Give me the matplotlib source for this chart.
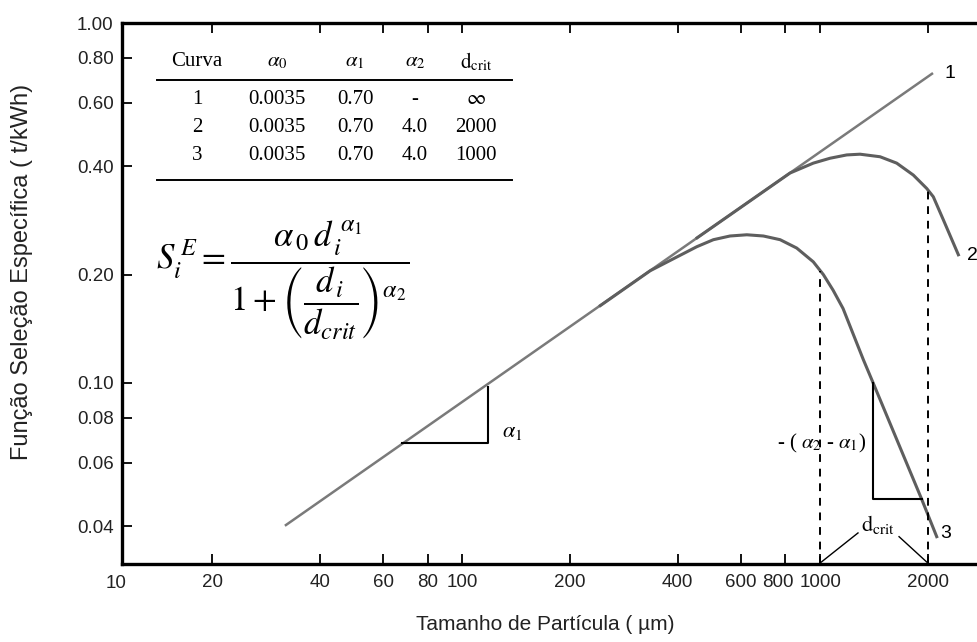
import matplotlib
matplotlib.use("Agg")
import matplotlib.pyplot as plt
from matplotlib.lines import Line2D
from matplotlib.transforms import ScaledTranslation

# ---------------- data ----------------
x_ticks = [20, 40, 60, 80, 100, 200, 400, 600, 800, 1000, 2000]
x_tick_labels = ["20", "40", "60", "80", "100", "200", "400", "600", "800", "1000", "2000"]
x_corner_label = "10"
y_ticks = [0.04, 0.06, 0.08, 0.10, 0.20, 0.40, 0.60, 0.80, 1.00]
y_tick_labels = ["0.04", "0.06", "0.08", "0.10", "0.20", "0.40", "0.60", "0.80", "1.00"]

curve1_d = [31.9, 2068]
curve1_s = [0.0401, 0.726]

curve2_d = [453, 824, 957, 1066, 1187, 1293, 1471, 1637, 1822, 1986, 2072, 2210, 2435]
curve2_s = [0.253, 0.383, 0.408, 0.421, 0.430, 0.432, 0.425, 0.408, 0.378, 0.347, 0.329, 0.284, 0.227]

curve3_d = [243, 335, 452, 503, 560, 624, 694, 773, 860, 957, 1021, 1087, 1159, 1236, 1321, 1408, 1923, 2118]
curve3_s = [0.164, 0.205, 0.239, 0.250, 0.256, 0.258, 0.256, 0.250, 0.237, 0.217, 0.200, 0.181, 0.161, 0.137, 0.116, 0.0998, 0.0475, 0.0374]

table_header = ["Curva", r"$\alpha_0$", r"$\alpha_1$", r"$\alpha_2$", r"$\mathrm{d}_{\mathrm{crit}}$"]
table_curva = ["1", "2", "3"]
table_alpha0 = ["0.0035", "0.0035", "0.0035"]
table_alpha1 = ["0.70", "0.70", "0.70"]
table_alpha2 = ["-", "4.0", "4.0"]
table_dcrit = [r"$\infty$", "2000", "1000"]

dcrit_values = [2000, 1000]
dcrit_curve_s = [0.344, 0.205]

# ---------------- figure ----------------
W, H = 977, 642
plt.rcParams["mathtext.fontset"] = "stix"
fig = plt.figure(figsize=(W / 100, H / 100), dpi=100)

def px(x, y):
    return (x / W, 1 - y / H)

ax_left, ax_right, ax_top, ax_bottom = 122, 977, 23, 564
ax = fig.add_axes([ax_left / W, 1 - ax_bottom / H, (ax_right - ax_left) / W, (ax_bottom - ax_top) / H])
ax.set_xscale("log")
ax.set_yscale("log")
ax.set_xlim(11.18, 2745)
ax.set_ylim(0.0314, 1.0)

sans = "Liberation Sans"
serif = "Liberation Serif"
tick_fs = 13.5

ax.set_xticks(x_ticks)
ax.set_xticklabels(x_tick_labels, fontfamily=sans, fontsize=tick_fs, color="#222222")
ax.set_yticks(y_ticks)
ax.set_yticklabels(y_tick_labels, fontfamily=sans, fontsize=tick_fs, color="#222222")
ax.minorticks_off()
ax.tick_params(axis="x", which="major", direction="in", top=True, bottom=True,
               length=7, width=1.3, pad=7)
ax.tick_params(axis="y", which="major", direction="in", left=True, right=False,
               length=7, width=1.3, pad=6)
for side in ["left", "bottom", "top"]:
    ax.spines[side].set_linewidth(2.4)
ax.spines["right"].set_visible(False)

# nudge the crowded "800" label left, as in the reference
for lab in ax.get_xticklabels():
    if lab.get_text() == "800":
        lab.set_transform(lab.get_transform() + ScaledTranslation(-8 / 100, 0, fig.dpi_scale_trans))

# corner label "10"
fig.text(*px(116, 583), x_corner_label, fontfamily=sans, fontsize=tick_fs,
         ha="center", va="center", color="#222222")

# curves
ax.plot(curve1_d, curve1_s, color="#7a7a7a", lw=1.8, solid_capstyle="butt")
ax.plot(curve2_d, curve2_s, color="#5e5e5e", lw=2.2)
ax.plot(curve3_d, curve3_s, color="#5e5e5e", lw=2.2)

# dashed d_crit verticals
for dc, sc in zip(dcrit_values, dcrit_curve_s):
    ax.plot([dc, dc], [0.0314, sc], color="black", lw=1.4, ls=(0, (4, 3.5)))

# alpha1 triangle
ax.plot([68, 118, 118], [0.0681, 0.0681, 0.0975], color="black", lw=1.5)
# -(alpha2-alpha1) triangle
ax.plot([1408, 1408, 1923], [0.0998, 0.0475, 0.0475], color="black", lw=1.5)

# d_crit connectors
ax.plot([1276, 1000], [0.0383, 0.0316], color="black", lw=1.0)
ax.plot([1662, 2000], [0.0374, 0.0316], color="black", lw=1.0)

# annotations
fig.text(*px(502, 432), r"$\alpha_1$", fontsize=16, ha="left", va="center")
fig.text(*px(866, 443), r"- ( $\alpha_2$ - $\alpha_1$)", fontfamily=serif, fontsize=15,
         ha="right", va="center")
fig.text(*px(878, 525), r"$\mathrm{d}_{\mathrm{crit}}$", fontsize=16, ha="center", va="center")
fig.text(*px(950, 74), "1", fontfamily=sans, fontsize=14, ha="center", va="center")
fig.text(*px(972, 255), "2", fontfamily=sans, fontsize=14, ha="center", va="center")
fig.text(*px(946, 533), "3", fontfamily=sans, fontsize=14, ha="center", va="center")

# table
col_x = [197, 277, 355, 415, 476]
hdr_y = 62
row_y = [99, 127, 155]
for cx, h in zip(col_x, table_header):
    fig.text(*px(cx, hdr_y), h, fontfamily=serif, fontsize=15, ha="center", va="center")
cols = [table_curva, table_alpha0, table_alpha1, table_alpha2, table_dcrit]
for cx, col in zip(col_x, cols):
    for ry, val in zip(row_y, col):
        fig.text(*px(cx, ry), val, fontfamily=serif, fontsize=15, ha="center", va="center")
for yy in (80, 180):
    x0, y0 = px(157, yy)
    x1, _ = px(512, yy)
    fig.add_artist(Line2D([x0, x1], [y0, y0], color="black", lw=1.4, transform=fig.transFigure))

# formula
fig.text(*px(283, 280),
         r"$S_i^{\,E} = \dfrac{\alpha_{\,0}\, d_{\,i}^{\;\alpha_1}}{1+\left(\dfrac{d_{\,i}}{d_{crit}}\right)^{\alpha_2}}$",
         fontsize=25, ha="center", va="center")

# axis labels
fig.text(*px(545, 624), "Tamanho de Partícula ( µm)", fontfamily=sans, fontsize=15,
         ha="center", va="center", color="#222222")
fig.text(*px(22, 272), "Função Seleção Específica ( t/kWh)", fontfamily=sans, fontsize=17,
         ha="center", va="center", rotation=90, color="#222222")

fig.savefig("out.png", dpi=100)
